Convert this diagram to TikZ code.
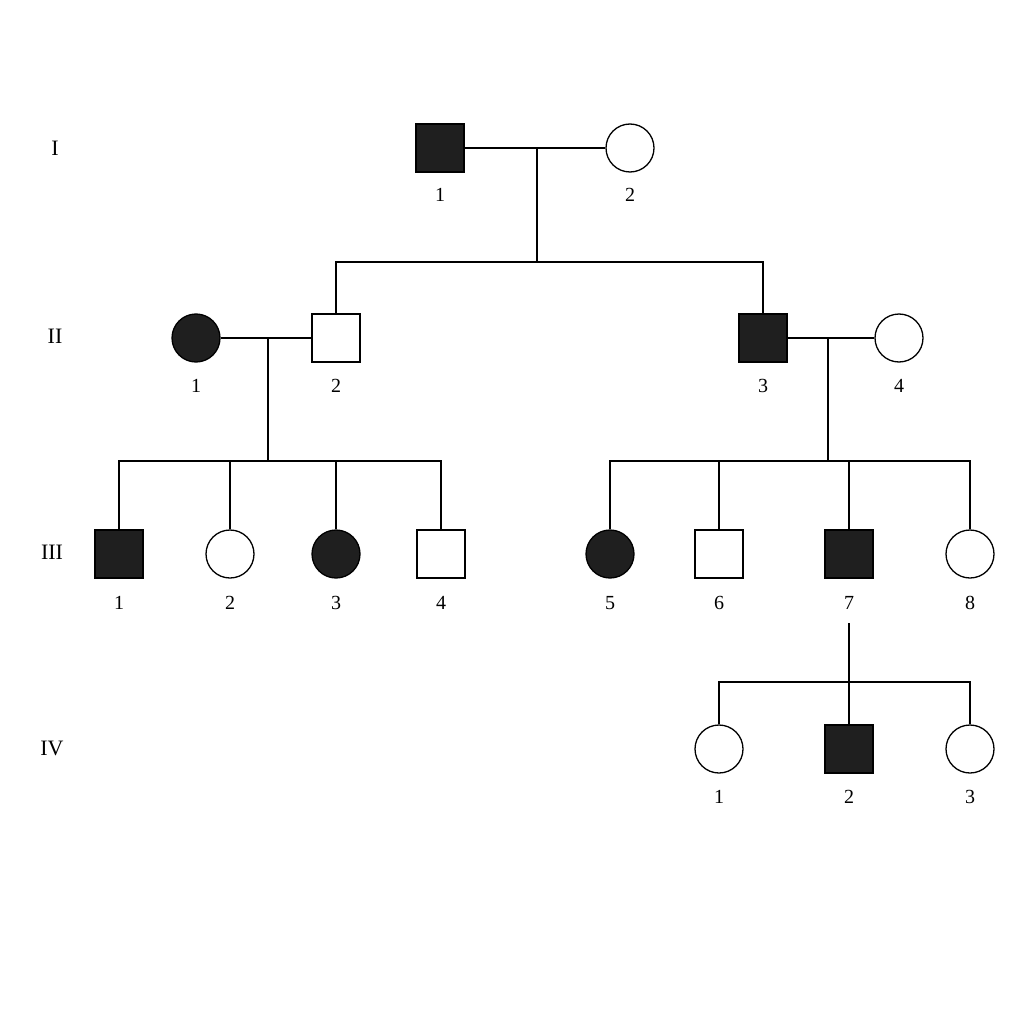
\documentclass[tikz,border=0pt]{standalone}
\usepackage{fontspec}
\setmainfont{Liberation Serif}
\begin{document}
\begin{tikzpicture}[x=1pt,y=-1pt,line width=1.3pt,
 m/.style={draw,rectangle,minimum size=48pt,inner sep=0pt},
 f/.style={draw,circle,minimum size=48pt,inner sep=0pt},
 a/.style={fill=black!88},
 u/.style={fill=white},
 lab/.style={font=\fontsize{20}{20}\selectfont},
 gen/.style={font=\fontsize{22}{22}\selectfont}]
\useasboundingbox (0,0) rectangle (1024,1024);
\fill[white] (0,0) rectangle (1024,1024);
\node[gen] at (55,148) {I};
\node[gen] at (55,336) {II};
\node[gen] at (52,552) {III};
\node[gen] at (52,748) {IV};
% generation I
\node[m,a] (i1) at (440,148) {}; \node[lab] at (440,195) {1};
\node[f,u] (i2) at (630,148) {}; \node[lab] at (630,195) {2};
% II
\node[f,a] (ii1) at (196,338) {}; \node[lab] at (196,386) {1};
\node[m,u] (ii2) at (336,338) {}; \node[lab] at (336,386) {2};
\node[m,a] (ii3) at (763,338) {}; \node[lab] at (763,386) {3};
\node[f,u] (ii4) at (899,338) {}; \node[lab] at (899,386) {4};
% III
\node[m,a] (iii1) at (119,554) {}; \node[lab] at (119,603) {1};
\node[f,u] (iii2) at (230,554) {}; \node[lab] at (230,603) {2};
\node[f,a] (iii3) at (336,554) {}; \node[lab] at (336,603) {3};
\node[m,u] (iii4) at (441,554) {}; \node[lab] at (441,603) {4};
\node[f,a] (iii5) at (610,554) {}; \node[lab] at (610,603) {5};
\node[m,u] (iii6) at (719,554) {}; \node[lab] at (719,603) {6};
\node[m,a] (iii7) at (849,554) {}; \node[lab] (l7) at (849,603) {7};
\node[f,u] (iii8) at (970,554) {}; \node[lab] at (970,603) {8};
% IV
\node[f,u] (iv1) at (719,749) {}; \node[lab] at (719,797) {1};
\node[m,a] (iv2) at (849,749) {}; \node[lab] at (849,797) {2};
\node[f,u] (iv3) at (970,749) {}; \node[lab] at (970,797) {3};
% lines
\draw (i1) -- (i2);
\draw (537,148) -- (537,262);
\draw (ii2.north) |- (537,262) -| (ii3.north);
\draw (ii1) -- (ii2);
\draw (268,338) -- (268,461);
\draw (iii1.north) |- (iii4.north |- 0,461) -- (iii4.north);
\draw (iii2.north) -- (230,461);
\draw (iii3.north) -- (336,461);
\draw (ii3) -- (ii4);
\draw (828,338) -- (828,461);
\draw (iii5.north) |- (970,461) -- (iii8.north);
\draw (iii6.north) -- (719,461);
\draw (iii7.north) -- (849,461);
\draw (849,623) -- (iv2.north);
\draw (iv1.north) |- (970,682) -- (iv3.north);
\end{tikzpicture}
\end{document}
